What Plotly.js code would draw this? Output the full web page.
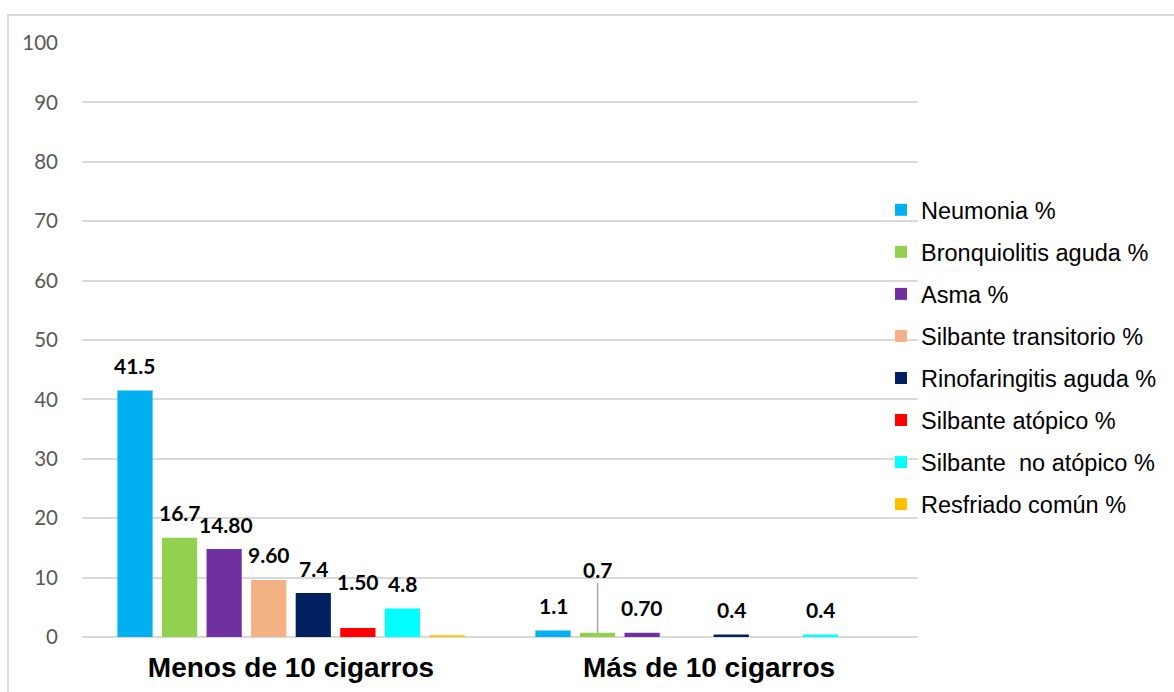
<!DOCTYPE html>
<html>
<head>
<meta charset="utf-8">
<script src="https://cdn.plot.ly/plotly-3.0.1.min.js"></script>
<style>html,body{margin:0;padding:0;background:#fff;}#chart{width:1174px;height:692px;}</style>
</head>
<body>
<div id="chart"></div>
<script>
// ---- data ----
const categories = ["Menos de 10 cigarros", "Más de 10 cigarros"];
const seriesNames = ["Neumonia %", "Bronquiolitis aguda %", "Asma %", "Silbante transitorio %",
  "Rinofaringitis aguda %", "Silbante atópico %", "Silbante  no atópico %", "Resfriado común %"];
const neumonia = [41.5, 1.1];
const bronquiolitis = [16.7, 0.7];
const asma = [14.8, 0.7];
const silbanteTransitorio = [9.6, 0];
const rinofaringitis = [7.4, 0.4];
const silbanteAtopico = [1.5, 0];
const silbanteNoAtopico = [4.8, 0.4];
const resfriado = [0.3, 0];
const labelsNeumonia = ["41.5", "1.1"];
const labelsBronquiolitis = ["16.7", "0.7"];
const labelsAsma = ["14.80", "0.70"];
const labelsSilbanteTransitorio = ["9.60", ""];
const labelsRinofaringitis = ["7.4", "0.4"];
const labelsSilbanteAtopico = ["1.50", ""];
const labelsSilbanteNoAtopico = ["4.8", "0.4"];
const labelsResfriado = ["", ""];
const yTicks = [0, 10, 20, 30, 40, 50, 60, 70, 80, 90, 100];

// ---- styling ----
const colors = ["#00B0F0", "#92D050", "#7030A0", "#F4B183", "#002060", "#FF0000", "#00FFFF", "#FFC000"];
const values = [neumonia, bronquiolitis, asma, silbanteTransitorio, rinofaringitis, silbanteAtopico, silbanteNoAtopico, resfriado];
const labels = [labelsNeumonia, labelsBronquiolitis, labelsAsma, labelsSilbanteTransitorio, labelsRinofaringitis, labelsSilbanteAtopico, labelsSilbanteNoAtopico, labelsResfriado];

const W = 1174, H = 692;
const margin = {l: 82, r: 256, t: 43, b: 55};
const plotW = W - margin.l - margin.r;
const plotH = H - margin.t - margin.b;
const bargap = 0.147;
const slot = plotW / categories.length * (1 - bargap) / seriesNames.length;

const traces = seriesNames.map((name, i) => ({
  type: 'bar',
  name: name,
  x: categories,
  y: values[i],
  marker: {color: colors[i]},
  legendgroup: 'g' + i,
  hoverinfo: 'none'
}));

const annotations = [];
labels.forEach((arr, i) => {
  arr.forEach((txt, j) => {
    if (!txt) return;
    const a = {
      x: categories[j], y: values[i][j], xref: 'x', yref: 'y',
      text: txt,
      xshift: (i - 3.5) * slot,
      font: {family: 'Lato, "Open Sans", sans-serif', size: 21, color: '#000000', weight: 'bold'},
      showarrow: false,
      xanchor: 'center', yanchor: 'middle',
      borderpad: 0,
      yshift: 25
    };
    if (i === 2 && j === 0) a.xshift += 2;
    if (i === 5 && j === 0) a.yshift = 47;
    if (i === 1 && j === 1) {
      a.showarrow = true;
      a.arrowhead = 0;
      a.arrowcolor = '#a6a6a6';
      a.arrowwidth = 1.5;
      a.ax = 0; a.ay = -63;
      a.yshift = 0;
    }
    annotations.push(a);
  });
});

const layout = {
  width: W, height: H,
  margin: margin,
  paper_bgcolor: '#ffffff',
  plot_bgcolor: '#ffffff',
  barmode: 'group',
  bargap: bargap,
  bargroupgap: 0.21,
  showlegend: true,
  legend: {
    x: (881 - margin.l) / plotW, xanchor: 'left',
    y: 1 - (188 - margin.t) / plotH, yanchor: 'top',
    bgcolor: 'rgba(0,0,0,0)',
    font: {family: '"Liberation Sans", Arial, sans-serif', size: 23.5, color: '#000000'},
    tracegroupgap: 8.5,
    traceorder: 'grouped'
  },
  xaxis: {
    type: 'category',
    tickfont: {family: '"Liberation Sans", Arial, sans-serif', size: 28, color: '#000000', weight: 'bold'},
    showgrid: false, showline: false, ticks: '',
    ticklabelstandoff: 11,
    fixedrange: true
  },
  yaxis: {
    range: [0, 100],
    tickvals: yTicks,
    ticktext: yTicks.map(String),
    tickfont: {family: 'Lato, "Open Sans", sans-serif', size: 20.5, color: '#595959'},
    showgrid: true, gridcolor: '#d9d9d9', gridwidth: 2,
    zeroline: true, zerolinecolor: '#d9d9d9', zerolinewidth: 2,
    showline: false, ticks: '',
    ticklabelstandoff: 23,
    fixedrange: true
  },
  annotations: annotations,
  shapes: [{
    type: 'rect', xref: 'paper', yref: 'paper', layer: 'below',
    x0: (8 - margin.l) / plotW, x1: (1190 - margin.l) / plotW,
    y0: -(H + 20 - (margin.t + plotH)) / plotH, y1: 1 + (margin.t - 15) / plotH,
    line: {color: '#d9d9d9', width: 2}, fillcolor: 'rgba(0,0,0,0)'
  }]
};

Plotly.newPlot('chart', traces, layout, {displayModeBar: false, staticPlot: true});
</script>
</body>
</html>
